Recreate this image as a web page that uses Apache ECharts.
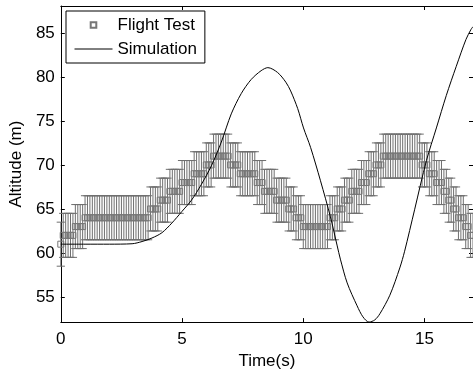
<!DOCTYPE html>
<html><head><meta charset="utf-8">
<script src="https://cdn.jsdelivr.net/npm/echarts@6/dist/echarts.min.js"></script>
<style>html,body{margin:0;padding:0;background:#fff}#c{width:473px;height:375px}</style>
</head><body><div id="c"></div>
<script>
// ---- data ----
const xTicks = [0, 5, 10, 15];
const yTicks = [55, 60, 65, 70, 75, 80, 85];
const flightStart = 0, flightStep = 0.1;
const flightAlt = [
  61,
  62,62,62,62,62,
  63,63,63,63,
  64,64,64,64,64,64,64,64,64,64,64,64,64,64,64,64,64,64,64,64,64,64,64,64,64,64,64,
  65,65,65,65,
  66,66,66,66,
  67,67,67,67,67,
  68,68,68,68,68,
  69,69,69,69,69,
  70,70,70,
  71,71,71,71,71,71,71,
  70,70,70,70,
  69,69,69,69,69,69,69,
  68,68,68,
  67,67,67,67,67,
  66,66,66,66,66,
  65,65,65,
  64,64,64,
  63,63,63,63,63,63,63,63,63,63,63,
  64,64,64,
  65,65,65,
  66,66,66,
  67,67,67,67,
  68,68,68,
  69,69,69,
  70,70,70,
  71,71,71,71,71,71,71,71,71,71,71,71,71,71,71,71,
  70,70,70,
  69,69,69,
  68,68,68,
  67,67,
  66,66,
  65,65,
  64,64,64,
  63,63,
  62,62
];
const flightErr = 2.5;
const simTime = [0, 1, 2, 2.94, 3.35, 3.76, 4.17, 4.58, 4.99, 5.39, 5.80, 6.21, 6.62, 7.03, 7.44, 7.85, 8.26, 8.54, 8.94, 9.28, 9.48, 9.77, 10.01, 10.30, 10.71, 11.12, 11.40, 11.53, 11.81, 12.22, 12.46, 12.71, 12.95, 13.16, 13.57, 13.98, 14.18, 14.59, 15.08, 15.49, 15.90, 16.31, 16.71, 16.92, 17];
const simAlt  = [61, 61, 61, 61.05, 61.3, 61.7, 62.3, 63.4, 64.7, 66.0, 67.8, 69.9, 72.6, 75.8, 78.1, 79.7, 80.7, 81.05, 80.5, 79.4, 78.4, 76.4, 74.2, 72.0, 68.2, 64.1, 60.8, 59.3, 56.6, 54.0, 52.75, 52.15, 52.4, 53.1, 55.2, 58.3, 60.2, 64.9, 70.5, 74.2, 77.9, 81.2, 84.25, 85.4, 85.7];

// ---- build ----
const FONT = "'Liberation Sans', Arial, sans-serif";
const xMin = 0, xMax = 17, yMin = 52.15, yMax = 88.05;
const capHalf = 0.17;
const flightData = flightAlt.map((v, i) => [+(flightStart + i * flightStep).toFixed(2), v]);
const simData = simTime.map((t, i) => [t, simAlt[i]]);

const axisCommon = {
  type: 'value',
  splitLine: { show: false },
  axisLine: { show: true, onZero: false, lineStyle: { color: '#000', width: 1 } },
};
const chart = echarts.init(document.getElementById('c'), null, { renderer: 'canvas' });
chart.setOption({
  animation: false,
  backgroundColor: '#fff',
  textStyle: { fontFamily: FONT },
  grid: { left: 58, right: -1, top: 6, bottom: 48, containLabel: false },
  legend: {
    orient: 'vertical', left: 66, top: 11,
    backgroundColor: '#fff', borderColor: '#000', borderWidth: 1,
    padding: [4, 8, 4, 8], itemGap: 4, itemWidth: 38, itemHeight: 7,
    lineStyle: { width: 1 },
    textStyle: { fontFamily: FONT, fontSize: 17, lineHeight: 20, color: '#000' },
    data: [
      { name: 'Flight Test' },
      { name: 'Simulation', itemStyle: { opacity: 0 } }
    ]
  },
  xAxis: [
    Object.assign({}, axisCommon, {
      min: xMin, max: xMax, position: 'bottom',
      axisTick: { show: true, inside: true, length: 4, customValues: xTicks, lineStyle: { color: '#000' } },
      axisLabel: { customValues: xTicks, fontFamily: FONT, fontSize: 17, color: '#000', margin: 9 },
      name: 'Time(s)', nameLocation: 'middle', nameGap: 25,
      nameTextStyle: { fontFamily: FONT, fontSize: 17, color: '#000' }
    }),
    Object.assign({}, axisCommon, {
      min: xMin, max: xMax, position: 'top',
      axisTick: { show: true, inside: true, length: 4, customValues: xTicks, lineStyle: { color: '#000' } },
      axisLabel: { show: false }
    })
  ],
  yAxis: [
    Object.assign({}, axisCommon, {
      min: yMin, max: yMax, position: 'left',
      axisTick: { show: true, inside: true, length: 4, customValues: yTicks, lineStyle: { color: '#000' } },
      axisLabel: { customValues: yTicks, fontFamily: FONT, fontSize: 17, color: '#000', margin: 6 },
      name: 'Altitude (m)', nameLocation: 'middle', nameGap: 34,
      nameTextStyle: { fontFamily: FONT, fontSize: 17, color: '#000' }
    }),
    Object.assign({}, axisCommon, {
      min: yMin, max: yMax, position: 'right',
      axisTick: { show: true, inside: true, length: 4, customValues: yTicks, lineStyle: { color: '#000' } },
      axisLabel: { show: false }
    })
  ],
  series: [
    {
      name: 'Flight Test Error', type: 'custom', data: flightData, z: 2,
      renderItem: function (params, api) {
        const t = api.value(0), v = api.value(1);
        const top = api.coord([t, v + flightErr]);
        const bot = api.coord([t, v - flightErr]);
        const hw = api.size([capHalf, 0])[0];
        const st = { stroke: '#6f6f6f', lineWidth: 1 };
        return { type: 'group', children: [
          { type: 'line', shape: { x1: top[0], y1: top[1], x2: bot[0], y2: bot[1] }, style: st },
          { type: 'line', shape: { x1: top[0] - hw, y1: top[1], x2: top[0] + hw, y2: top[1] }, style: st },
          { type: 'line', shape: { x1: bot[0] - hw, y1: bot[1], x2: bot[0] + hw, y2: bot[1] }, style: st }
        ] };
      }
    },
    {
      name: 'Flight Test', type: 'line', data: flightData, z: 3,
      symbol: 'rect', symbolSize: 6, showSymbol: true, showAllSymbol: true,
      color: '#777',
      lineStyle: { opacity: 0, width: 0 },
      itemStyle: { color: 'transparent', borderColor: '#777', borderWidth: 1 }
    },
    {
      name: 'Simulation', type: 'line', data: simData, z: 4,
      symbol: 'none', smooth: 0.3, color: '#000',
      lineStyle: { color: '#000', width: 1 }
    }
  ]
});
</script>
</body></html>
